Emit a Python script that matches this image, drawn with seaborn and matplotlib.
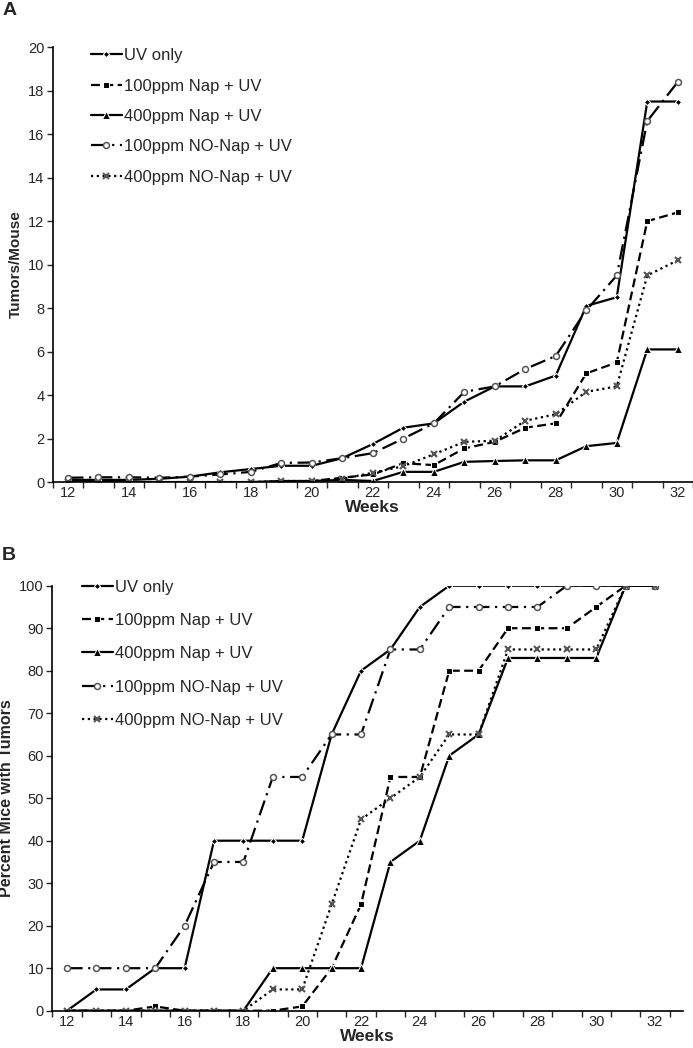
import numpy as np
import pandas as pd
import matplotlib
matplotlib.use("Agg")
import matplotlib.pyplot as plt
from matplotlib.ticker import MultipleLocator, FixedLocator
import seaborn as sns

weeks = list(range(12, 33))
groups = ['UV only', '100ppm Nap + UV', '400ppm Nap + UV',
          '100ppm NO-Nap + UV', '400ppm NO-Nap + UV']

# panel A: tumors per mouse
tum_uv = [0.1, 0.1, 0.1, 0.15, 0.25, 0.45, 0.6, 0.75, 0.75, 1.1, 1.75,
          2.5, 2.7, 3.7, 4.4, 4.4, 4.9, 8.1, 8.5, 17.5, 17.5]
tum_nap100 = [0, 0, 0, 0, 0, 0, 0, 0, 0.05, 0.2, 0.35,
              0.87, 0.78, 1.55, 1.85, 2.5, 2.7, 5.0, 5.5, 12.0, 12.4]
tum_nap400 = [0, 0, 0, 0, 0, 0, 0, 0.05, 0.05, 0.1, 0.05,
              0.47, 0.47, 0.93, 0.97, 1.0, 1.0, 1.65, 1.8, 6.1, 6.1]
tum_nonap100 = [0.2, 0.22, 0.22, 0.2, 0.25, 0.35, 0.47, 0.88, 0.9, 1.1, 1.33,
                2.0, 2.7, 4.15, 4.4, 5.2, 5.8, 7.9, 9.5, 16.6, 18.4]
tum_nonap400 = [0, 0, 0, 0, 0, 0, 0, 0.05, 0.05, 0.15, 0.43,
                0.73, 1.28, 1.85, 1.9, 2.82, 3.12, 4.15, 4.4, 9.5, 10.2]

# panel B: percent mice with tumors
pct_uv = [0, 5, 5, 10, 10, 40, 40, 40, 40, 65, 80,
          85, 95, 100, 100, 100, 100, 100, 100, 100, 100]
pct_nap100 = [0, 0, 0, 1, 0, 0, 0, 0, 1, 10, 25,
              55, 55, 80, 80, 90, 90, 90, 95, 100, 100]
pct_nap400 = [0, 0, 0, 0, 0, 0, 0, 10, 10, 10, 10,
              35, 40, 60, 65, 83, 83, 83, 83, 100, 100]
pct_nonap100 = [10, 10, 10, 10, 20, 35, 35, 55, 55, 65, 65,
                85, 85, 95, 95, 95, 95, 100, 100, 100, 100]
pct_nonap400 = [0, 0, 0, 0, 0, 0, 0, 5, 5, 25, 45,
                50, 55, 65, 65, 85, 85, 85, 85, 100, 100]

styles = [
    dict(color='black', marker='D', markersize=3.2, linestyle='-'),
    dict(color='black', marker='s', markersize=5, linestyle=(0, (4, 2))),
    dict(color='black', marker='^', markersize=5.2, linestyle='-'),
    dict(color='black', marker='o', markersize=4.3, linestyle=(0, (7, 2.5, 1, 2.5)),
         markerfacecolor='white', markeredgecolor='#555555', markeredgewidth=1.1),
    dict(color='black', marker='x', markersize=4.5, linestyle=(0, (1, 1.6)),
         markeredgecolor='#555555', markeredgewidth=1.5),
]

sns.set_style('white')
plt.rcParams['font.family'] = ['Liberation Sans', 'DejaVu Sans']

fig = plt.figure(figsize=(6.93, 10.48), dpi=100)
axA = fig.add_axes([0.076, 0.540, 0.924, 0.415])
axB = fig.add_axes([0.0755, 0.0356, 0.910, 0.4055])


def draw(ax, series, ylim, ystep, xmax, leg_xy, spacing):
    for name, vals, st in zip(groups, series, styles):
        df = pd.DataFrame({'week': weeks, 'val': vals})
        sns.lineplot(data=df, x='week', y='val', ax=ax, label=name,
                     linewidth=1.6, **st)
    ax.set_xlim(11.5, xmax)
    ax.set_ylim(*ylim)
    ax.xaxis.set_major_locator(FixedLocator(list(range(12, 33, 2))))
    ax.xaxis.set_minor_locator(FixedLocator([w + 0.5 for w in range(11, 33)]))
    ax.yaxis.set_major_locator(MultipleLocator(ystep))
    ax.tick_params(axis='x', which='major', length=0, labelsize=10.5, pad=3)
    ax.tick_params(axis='x', which='minor', length=4, width=1, direction='out',
                   bottom=True)
    ax.tick_params(axis='y', length=4, width=1, direction='out', left=True,
                   labelsize=10.5, pad=2)
    for s in ['top', 'right']:
        ax.spines[s].set_visible(False)
    for s in ['left', 'bottom']:
        ax.spines[s].set_color('black')
        ax.spines[s].set_linewidth(1.2)
    ax.set_xlabel('Weeks', fontsize=12.5, fontweight='bold', labelpad=0)
    ax.legend(loc='upper left', bbox_to_anchor=leg_xy,
              bbox_transform=fig.transFigure, frameon=False,
              fontsize=12, handlelength=1.86, handletextpad=0.12,
              labelspacing=spacing, borderpad=0, borderaxespad=0)


draw(axA, [tum_uv, tum_nap100, tum_nap400, tum_nonap100, tum_nonap400],
     (0, 20), 2, 32.5, (0.131, 0.954), 0.92)
draw(axB, [pct_uv, pct_nap100, pct_nap400, pct_nonap100, pct_nonap400],
     (0, 100), 10, 32.95, (0.118, 0.447), 1.1)

axA.set_ylabel('Tumors/Mouse', fontsize=11, fontweight='bold', labelpad=4)
axB.set_ylabel('Percent Mice with Tumors', fontsize=11.5, fontweight='bold', labelpad=4)

fig.text(0.003, 0.998, 'A', fontsize=14, fontweight='bold', va='top', ha='left')
fig.text(0.003, 0.478, 'B', fontsize=14, fontweight='bold', va='top', ha='left')

fig.savefig('out.png', dpi=100)
